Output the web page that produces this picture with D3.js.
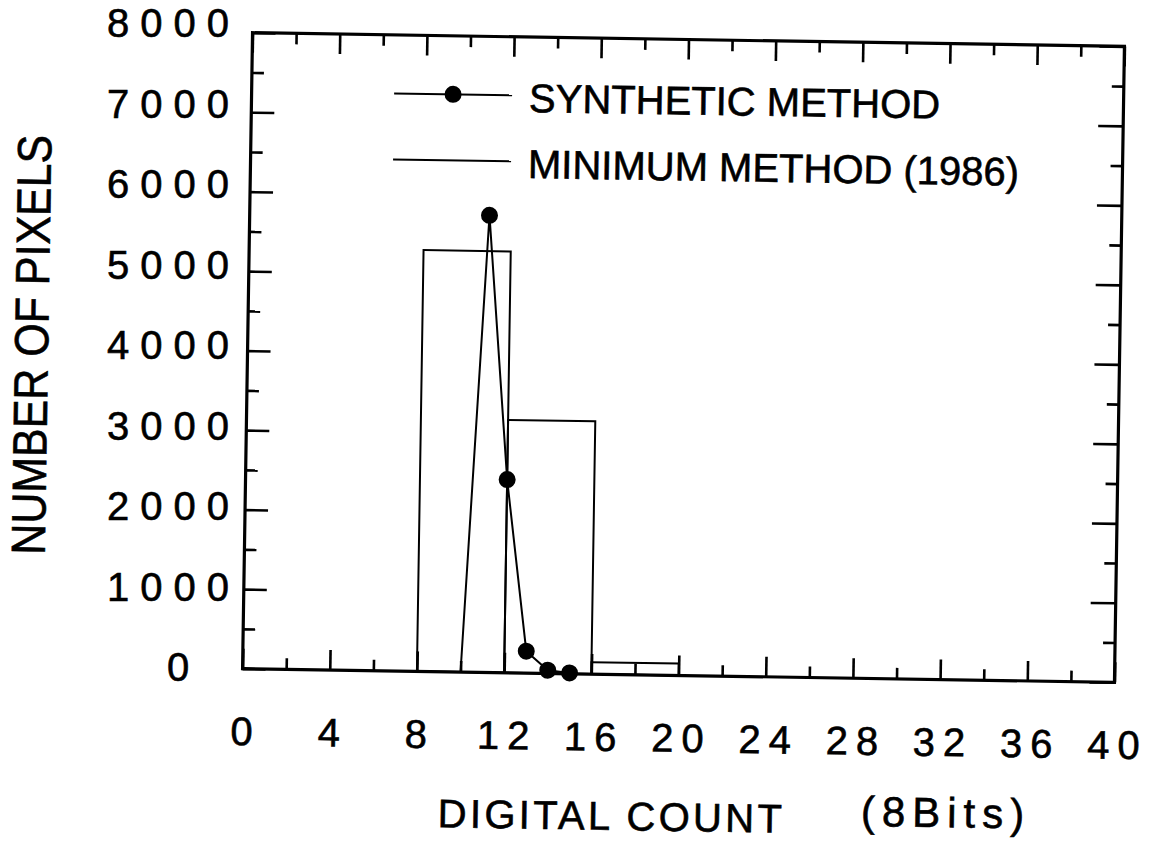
<!DOCTYPE html>
<html>
<head>
<meta charset="utf-8">
<script src="https://cdn.jsdelivr.net/npm/d3@7"></script>
<style>
  body { margin: 0; background: #fff; }
  text { font-family: "Liberation Sans", Arial, Helvetica, sans-serif; fill: #000; stroke: #000; stroke-width: 0.6; }
</style>
</head>
<body>
<svg id="chart" width="1149" height="844"></svg>
<script>
// Histogram of the minimum method (bin edges and pixel counts)
const binStart = [8, 12, 16];
const binEnd = [12, 16, 20];
const minimumCounts = [5300, 3180, 150];

// Synthetic method curve
const synthDigital = [10, 11, 12, 13, 14, 15];
const synthCounts = [0, 5750, 2430, 275, 40, 10];

// Axis ticks
const xMajorTicks = [0, 4, 8, 12, 16, 20, 24, 28, 32, 36, 40];
const xMinorTicks = [2, 6, 10, 14, 18, 22, 26, 30, 34, 38];
const yMajorTicks = [0, 1000, 2000, 3000, 4000, 5000, 6000, 7000, 8000];
const yMinorTicks = [500, 1500, 2500, 3500, 4500, 5500, 6500, 7500];

const legendLabels = ["SYNTHETIC METHOD", "MINIMUM METHOD (1986)"];
const xTitle = "DIGITAL COUNT";
const xTitleUnit = "(8Bits)";
const yTitle = "NUMBER OF PIXELS";

const W = 1149, H = 844;
const frame = { left: 247.5, top: 39.5, right: 1119.5, bottom: 675.5 };

const x = d3.scaleLinear().domain([0, 40]).range([frame.left, frame.right]);
const y = d3.scaleLinear().domain([0, 8000]).range([frame.bottom, frame.top]);
// value-axis labels are set in an upright column, spaced a little wider than the ticks
const yLabelPos = d3.scaleLinear().domain([0, 8000]).range([667, 23]);

const svg = d3.select("#chart");
svg.append("rect").attr("width", W).attr("height", H).attr("fill", "#fff");

// the plot plate is tilted slightly
const root = svg.append("g").attr("transform", "rotate(0.9, 683.5, 357.5)");

// ---- tick marks (all pointing inward) ----
function tickGroup(axis, tx, ty, width) {
  const g = root.append("g").attr("transform", `translate(${tx},${ty})`).call(axis);
  g.select(".domain").remove();
  g.selectAll(".tick line").attr("stroke", "#000").attr("stroke-width", width);
  g.selectAll(".tick text").remove();
  return g;
}
tickGroup(d3.axisBottom(x).tickValues(xMajorTicks).tickSize(-20), 0, frame.bottom, 2.6);
tickGroup(d3.axisBottom(x).tickValues(xMinorTicks).tickSize(-11), 0, frame.bottom, 2.6);
tickGroup(d3.axisTop(x).tickValues(xMajorTicks).tickSize(-20), 0, frame.top, 2.6);
tickGroup(d3.axisTop(x).tickValues(xMinorTicks).tickSize(-11), 0, frame.top, 2.6);
tickGroup(d3.axisLeft(y).tickValues(yMajorTicks).tickSize(-23), frame.left, 0, 2.6);
tickGroup(d3.axisLeft(y).tickValues(yMinorTicks).tickSize(-12), frame.left, 0, 2.6);
tickGroup(d3.axisRight(y).tickValues(yMajorTicks).tickSize(-25), frame.right, 0, 2.6);
tickGroup(d3.axisRight(y).tickValues(yMinorTicks).tickSize(-12), frame.right, 0, 2.6);

// ---- frame ----
root.append("rect")
  .attr("x", frame.left).attr("y", frame.top)
  .attr("width", frame.right - frame.left).attr("height", frame.bottom - frame.top)
  .attr("fill", "none").attr("stroke", "#000").attr("stroke-width", 3.2);

// ---- minimum method histogram (open bars) ----
root.append("g").selectAll("rect")
  .data(minimumCounts)
  .join("rect")
  .attr("x", (d, i) => x(binStart[i]))
  .attr("y", d => y(d))
  .attr("width", (d, i) => x(binEnd[i]) - x(binStart[i]))
  .attr("height", d => y(0) - y(d))
  .attr("fill", "none")
  .attr("stroke", "#000")
  .attr("stroke-width", 2);

// ---- synthetic method line with dots ----
const synth = synthDigital.map((v, i) => ({ v, c: synthCounts[i] }));
root.append("path")
  .datum(synth)
  .attr("fill", "none")
  .attr("stroke", "#000")
  .attr("stroke-width", 2)
  .attr("d", d3.line().x(d => x(d.v)).y(d => y(d.c)));
root.append("g").selectAll("circle")
  .data(synth.filter(d => d.c > 0))
  .join("circle")
  .attr("cx", d => x(d.v))
  .attr("cy", d => y(d.c))
  .attr("r", 8.5)
  .attr("fill", "#000");

// ---- legend ----
const legendRows = [98, 164];
const legend = root.append("g");
legendRows.forEach((ly, i) => {
  legend.append("line")
    .attr("x1", 390).attr("x2", 508).attr("y1", ly).attr("y2", ly)
    .attr("stroke", "#000").attr("stroke-width", 2);
  if (i === 0) {
    legend.append("circle").attr("cx", 449).attr("cy", ly).attr("r", 8.5).attr("fill", "#000");
  }
  legend.append("text")
    .attr("x", 525).attr("y", ly + 16.5)
    .attr("font-size", 40)
    .text(legendLabels[i]);
});

// ---- tick labels ----
const xLabelSpacing = 8;
root.append("g").selectAll("text")
  .data(xMajorTicks)
  .join("text")
  .attr("x", d => x(d) + xLabelSpacing / 2)
  .attr("y", 752)
  .attr("text-anchor", "middle")
  .attr("font-size", 40)
  .attr("letter-spacing", xLabelSpacing)
  .text(d => d);

const yLabelSpacing = 11;
svg.append("g").selectAll("text")
  .data(yMajorTicks)
  .join("text")
  .attr("x", d => (d === 0 ? 178 : 168) + yLabelSpacing / 2)
  .attr("y", d => yLabelPos(d))
  .attr("dy", "0.36em")
  .attr("text-anchor", "middle")
  .attr("font-size", 40)
  .attr("letter-spacing", yLabelSpacing)
  .text(d => d);

// ---- axis titles ----
root.append("text")
  .attr("x", 445).attr("y", 831)
  .attr("font-size", 40)
  .attr("letter-spacing", 3.3)
  .text(xTitle);
root.append("text")
  .attr("x", 868).attr("y", 823)
  .attr("font-size", 42)
  .attr("letter-spacing", 7)
  .text(xTitleUnit);

root.append("text")
  .attr("transform", "translate(48,355) rotate(-90)")
  .attr("text-anchor", "middle")
  .attr("font-size", 48)
  .attr("textLength", 420)
  .attr("lengthAdjust", "spacingAndGlyphs")
  .text(yTitle);
</script>
</body>
</html>
